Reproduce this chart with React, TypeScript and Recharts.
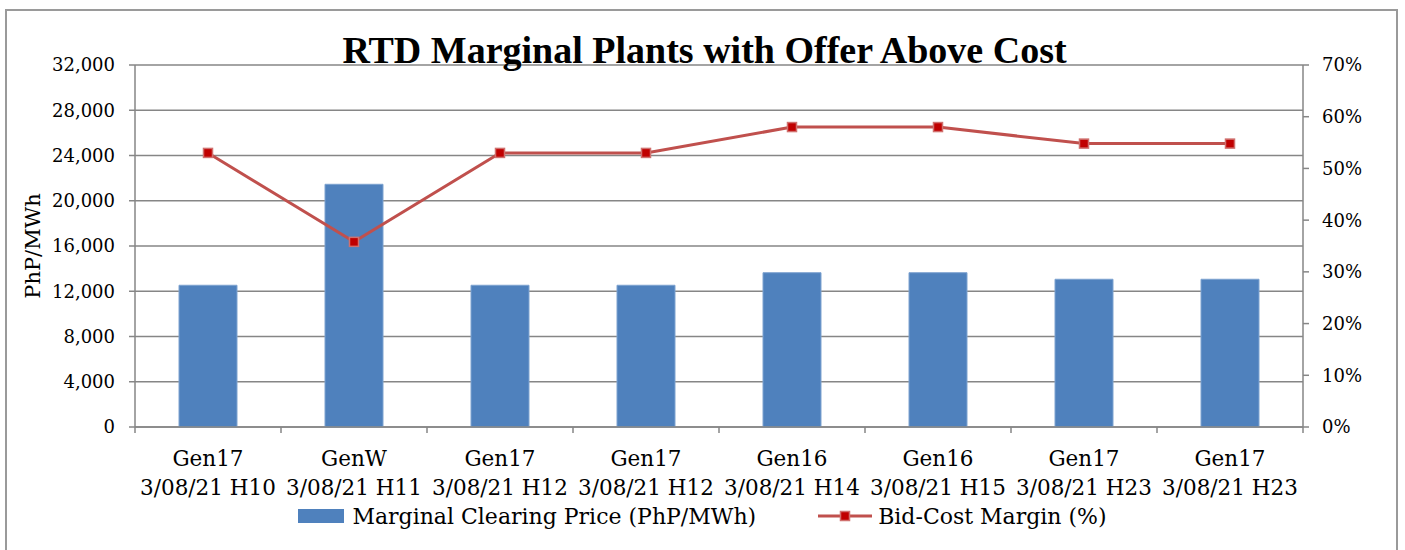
import { Bar, CartesianGrid, ComposedChart, Legend, Line, XAxis, YAxis } from 'recharts'

// Excel-style combo chart: clearing price bars on the left axis,
// bid-cost margin line (in %) on the right axis.
const generators = ['Gen17', 'GenW', 'Gen17', 'Gen17', 'Gen16', 'Gen16', 'Gen17', 'Gen17']
const intervals = [
  '3/08/21 H10',
  '3/08/21 H11',
  '3/08/21 H12',
  '3/08/21 H12',
  '3/08/21 H14',
  '3/08/21 H15',
  '3/08/21 H23',
  '3/08/21 H23',
]
const clearingPrice = [12530, 21455, 12530, 12530, 13640, 13640, 13060, 13060]
const bidCostMargin = [53.0, 35.8, 53.0, 53.0, 58.0, 58.0, 54.8, 54.8]

const priceTicks = [0, 4000, 8000, 12000, 16000, 20000, 24000, 28000, 32000]
const marginTicks = [0, 10, 20, 30, 40, 50, 60, 70]

const data = generators.map((gen, i) => ({
  gen,
  interval: intervals[i],
  key: `${gen}|${intervals[i]}|${i}`,
  price: clearingPrice[i],
  margin: bidCostMargin[i],
}))

const FONT = '"DejaVu Serif", serif'
const GREY = '#868686'
const BLUE = '#4F81BD'
const RED = '#C0504D'
const HALF_BAND = 73

function CategoryTick(props: any) {
  const { x, y, index } = props
  const row = data[index]
  const axisY = y - 8
  return (
    <g>
      <line x1={x - HALF_BAND} x2={x - HALF_BAND} y1={axisY} y2={axisY + 6} stroke={GREY} strokeWidth={1.5} />
      {index === data.length - 1 && (
        <line x1={x + HALF_BAND} x2={x + HALF_BAND} y1={axisY} y2={axisY + 6} stroke={GREY} strokeWidth={1.5} />
      )}
      <text x={x} y={y + 31} textAnchor="middle" fontFamily={FONT} fontSize={21.5} fill="#000">
        {row.gen}
      </text>
      <text x={x} y={y + 60} textAnchor="middle" fontFamily={FONT} fontSize={21.5} fill="#000">
        {row.interval}
      </text>
    </g>
  )
}

function SquareDot(props: any) {
  const { cx, cy } = props
  if (cx == null || cy == null) return null
  return <rect x={cx - 4.5} y={cy - 4.5} width={9} height={9} fill="#C00000" stroke="#D0706E" strokeWidth={1.5} />
}

function LegendContent() {
  return (
    <div
      style={{
        display: 'flex',
        justifyContent: 'center',
        alignItems: 'center',
        height: 30,
        fontFamily: FONT,
        fontSize: 22,
        color: '#000',
      }}
    >
      <span style={{ display: 'inline-block', width: 46, height: 14, background: BLUE, marginRight: 8 }} />
      <span style={{ marginRight: 62 }}>Marginal Clearing Price (PhP/MWh)</span>
      <svg width={54} height={14} style={{ marginRight: 6 }}>
        <line x1={0} x2={54} y1={7} y2={7} stroke={RED} strokeWidth={3} />
        <rect x={22.5} y={2.5} width={9} height={9} fill="#C00000" stroke="#D0706E" strokeWidth={1.5} />
      </svg>
      <span>Bid-Cost Margin (%)</span>
    </div>
  )
}

export default function App() {
  return (
    <div style={{ position: 'absolute', left: 0, top: 0, width: 1405, height: 550, overflow: 'hidden', background: '#fff' }}>
      <div
        style={{
          position: 'absolute',
          left: 5,
          top: 9,
          width: 1393,
          height: 600,
          border: '2px solid #9a9a9a',
          boxSizing: 'border-box',
        }}
      />
      <ComposedChart
        width={1405}
        height={550}
        data={data}
        margin={{ top: 65, right: 0, bottom: 19, left: 0 }}
        barSize={58}
        style={{ position: 'absolute', left: 0, top: 0 }}
      >
        <CartesianGrid yAxisId="left" vertical={false} stroke={GREY} strokeWidth={1.5} />
        <XAxis
          dataKey="key"
          height={74}
          axisLine={{ stroke: GREY, strokeWidth: 1.5 }}
          tickLine={false}
          interval={0}
          tick={<CategoryTick />}
        />
        <YAxis
          yAxisId="left"
          width={135}
          domain={[0, 32000]}
          ticks={priceTicks}
          interval={0}
          tickFormatter={(v: number) => v.toLocaleString('en-US')}
          axisLine={{ stroke: GREY, strokeWidth: 1.5 }}
          tickLine={{ stroke: GREY, strokeWidth: 1.5 }}
          tickSize={6}
          tickMargin={14}
          tick={{ fontFamily: FONT, fontSize: 18, fill: '#000' }}
          label={({ viewBox }: any) => (
            <text
              x={33}
              y={viewBox.y + viewBox.height / 2}
              transform={`rotate(-90, 33, ${viewBox.y + viewBox.height / 2})`}
              textAnchor="middle"
              dominantBaseline="central"
              fontFamily={FONT}
              fontSize={21}
              fill="#000"
            >
              PhP/MWh
            </text>
          )}
        />
        <YAxis
          yAxisId="right"
          orientation="right"
          width={102}
          domain={[0, 70]}
          ticks={marginTicks}
          interval={0}
          tickFormatter={(v: number) => `${v}%`}
          axisLine={{ stroke: GREY, strokeWidth: 1.5 }}
          tickLine={{ stroke: GREY, strokeWidth: 1.5 }}
          tickSize={6}
          tickMargin={13}
          tick={{ fontFamily: FONT, fontSize: 18, fill: '#000', textAnchor: 'start' }}
        />
        <Legend verticalAlign="bottom" height={30} content={<LegendContent />} />
        <Bar
          yAxisId="left"
          dataKey="price"
          name="Marginal Clearing Price (PhP/MWh)"
          fill={BLUE}
          stroke="#7EA3D0"
          strokeWidth={1}
          isAnimationActive={false}
        />
        <Line
          yAxisId="right"
          dataKey="margin"
          name="Bid-Cost Margin (%)"
          type="linear"
          stroke={RED}
          strokeWidth={3}
          dot={<SquareDot />}
          activeDot={false}
          isAnimationActive={false}
        />
      </ComposedChart>
      <div
        style={{
          position: 'absolute',
          left: 0,
          width: 1405,
          top: 31,
          textAlign: 'center',
          fontFamily: '"Liberation Serif", serif',
          fontWeight: 'bold',
          fontSize: 38,
          lineHeight: '38px',
          color: '#000',
          paddingLeft: 2,
        }}
      >
        RTD Marginal Plants with Offer Above Cost
      </div>
    </div>
  )
}
